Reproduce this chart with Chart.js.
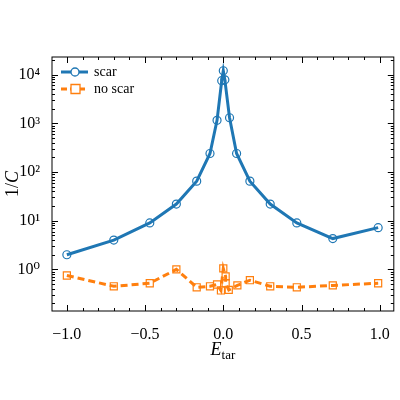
<!DOCTYPE html>
<html><head><script src="https://cdn.jsdelivr.net/npm/chart.js@4"></script>
<style>body{margin:0;background:#fff}#w{width:400px;height:400px}</style></head>
<body><div id="w"><canvas id="c"></canvas></div>
<script>
const scarX = [-1, -0.7, -0.47, -0.3, -0.17, -0.085, -0.04, -0.01, 0, 0.01, 0.04, 0.085, 0.17, 0.3, 0.47, 0.7, 0.99];
const scarY = [2.0, 4.0, 9, 22, 65, 240, 1150, 7500, 12000, 7800, 1300, 240, 65, 22, 9, 4.3, 7.2];
const noScarX = [-1, -0.7, -0.47, -0.3, -0.17, -0.085, -0.04, -0.015, 0, 0.015, 0.015, 0.035, 0.09, 0.17, 0.3, 0.47, 0.7, 0.99];
const noScarY = [0.75, 0.45, 0.52, 1.0, 0.43, 0.45, 0.49, 0.37, 1.05, 0.72, 0.52, 0.38, 0.47, 0.6, 0.45, 0.43, 0.47, 0.52];
const yTicks = [1, 10, 100, 1000, 10000];
const yLabels = ['10⁰', '10¹', '10²', '10³', '10⁴'];
const seriesNames = ['scar', 'no scar'];
const blue = '#1f77b4', orange = '#ff7f0e';
const serif = '"Liberation Serif","DejaVu Serif",serif';

const pts = (xs, ys) => xs.map((x, i) => ({x, y: ys[i]}));

const deco = {
  id: 'deco',
  afterDraw(ch) {
    const {ctx, chartArea: a, scales: {x, y}} = ch;
    ctx.save();
    ctx.strokeStyle = '#000'; ctx.lineWidth = 1;
    ctx.strokeRect(a.left, a.top, a.right - a.left, a.bottom - a.top);
    ctx.beginPath();
    for (let v = -1; v <= 1.001; v += 0.1) {
      const px = Math.round(x.getPixelForValue(v)) + 0.5;
      const major = Math.abs(v * 2 - Math.round(v * 2)) < 1e-6;
      const L = major ? 6 : 3;
      ctx.moveTo(px, a.bottom); ctx.lineTo(px, a.bottom - L);
      ctx.moveTo(px, a.top); ctx.lineTo(px, a.top + L);
    }
    for (let e = -1; e <= 4; e++) {
      for (let m = 1; m <= 9; m++) {
        const v = m * Math.pow(10, e);
        if (v < y.min || v > y.max) continue;
        const py = Math.round(y.getPixelForValue(v)) + 0.5;
        const L = m === 1 ? 6 : 3;
        ctx.moveTo(a.left, py); ctx.lineTo(a.left + L, py);
        ctx.moveTo(a.right, py); ctx.lineTo(a.right - L, py);
      }
    }
    ctx.stroke();
    ctx.fillStyle = '#000';
    ctx.textBaseline = 'alphabetic';
    ctx.font = 'italic 18px ' + serif;
    const cx = (a.left + a.right) / 2;
    const w1 = ctx.measureText('E').width;
    ctx.font = '13px ' + serif;
    const w2 = ctx.measureText('tar').width;
    let sx = cx - (w1 + w2) / 2;
    ctx.font = 'italic 18px ' + serif; ctx.fillText('E', sx, 355);
    ctx.font = '13px ' + serif; ctx.fillText('tar', sx + w1, 359);
    ctx.save();
    ctx.translate(18, (a.top + a.bottom) / 2);
    ctx.rotate(-Math.PI / 2);
    ctx.font = '18px ' + serif;
    const t1 = ctx.measureText('1/').width;
    ctx.font = 'italic 18px ' + serif;
    const t2 = ctx.measureText('C').width;
    ctx.font = '18px ' + serif; ctx.fillText('1/', -(t1 + t2) / 2, 0);
    ctx.font = 'italic 18px ' + serif; ctx.fillText('C', -(t1 + t2) / 2 + t1, 0);
    ctx.restore();
    const items = [[seriesNames[0], blue, 'circle', []], [seriesNames[1], orange, 'rect', [6, 3]]];
    items.forEach((it, i) => {
      const ly = 72 + i * 17;
      ctx.strokeStyle = it[1]; ctx.lineWidth = 3; ctx.setLineDash(it[3]);
      ctx.beginPath(); ctx.moveTo(61, ly); ctx.lineTo(88, ly); ctx.stroke();
      ctx.setLineDash([]); ctx.lineWidth = 1.3;
      ctx.fillStyle = '#fff';
      ctx.beginPath();
      if (it[2] === 'circle') ctx.arc(75, ly, 4, 0, Math.PI * 2); else ctx.rect(71, ly - 4.5, 9, 9);
      ctx.fill(); ctx.stroke();
      ctx.fillStyle = '#000'; ctx.font = '14px ' + serif; ctx.textBaseline = 'middle';
      ctx.fillText(it[0], 94, ly);
    });
    ctx.restore();
  }
};

new Chart(document.getElementById('c'), {
  type: 'scatter',
  data: {datasets: [
    {label: seriesNames[0], data: pts(scarX, scarY), showLine: true, borderColor: blue, borderWidth: 3,
     pointStyle: 'circle', pointRadius: 4, pointBorderWidth: 1.2, pointBorderColor: blue, pointBackgroundColor: 'rgba(0,0,0,0)'},
    {label: seriesNames[1], data: pts(noScarX, noScarY), showLine: true, borderColor: orange, borderWidth: 3, borderDash: [7, 4],
     pointStyle: 'rect', pointRadius: 5, pointBorderWidth: 1.2, pointBorderColor: orange, pointBackgroundColor: 'rgba(0,0,0,0)'}
  ]},
  options: {
    responsive: true, maintainAspectRatio: false, animation: false,
    layout: {padding: {top: 57, right: 2, left: 0, bottom: 0}},
    plugins: {legend: {display: false}, tooltip: {enabled: false}},
    scales: {
      x: {type: 'linear', min: -1.095, max: 1.09,
        afterBuildTicks: s => { s.ticks = [-1, -0.5, 0, 0.5, 1].map(v => ({value: v})); },
        afterFit: s => { s.height = 89; },
        grid: {display: false}, border: {display: false},
        ticks: {font: {family: serif, size: 16}, color: '#000', padding: 6,
          callback: v => (v < 0 ? '−' : '') + Math.abs(v).toFixed(1)}},
      y: {type: 'logarithmic', min: 0.14, max: 23000,
        afterBuildTicks: s => { s.ticks = yTicks.map(v => ({value: v})); },
        afterFit: s => { s.width = 52; },
        grid: {display: false}, border: {display: false},
        ticks: {font: {family: serif, size: 16}, color: '#000', padding: 4,
          callback: v => yLabels[yTicks.indexOf(v)] ?? ''}}
    }
  },
  plugins: [deco]
});
</script></body></html>
